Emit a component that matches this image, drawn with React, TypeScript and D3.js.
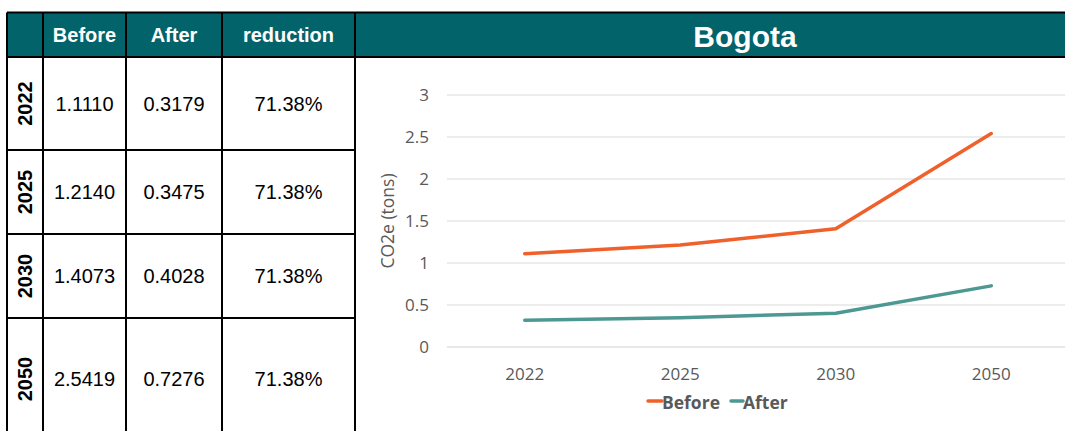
import React from "react";
import * as d3 from "d3";

const years = ["2022", "2025", "2030", "2050"];
const beforeValues = [1.111, 1.214, 1.4073, 2.5419];
const afterValues = [0.3179, 0.3475, 0.4028, 0.7276];
const beforeText = ["1.1110", "1.2140", "1.4073", "2.5419"];
const afterText = ["0.3179", "0.3475", "0.4028", "0.7276"];
const reductionText = ["71.38%", "71.38%", "71.38%", "71.38%"];
const headers = ["Before", "After", "reduction"];
const yTicks = [0, 0.5, 1, 1.5, 2, 2.5, 3];
const title = "Bogota";
const yTitle = "CO2e (tons)";
const seriesNames = ["Before", "After"];

const W = 1065;
const H = 431;
const TEAL = "#02646A";
const ORANGE = "#F0602A";
const GREEN = "#4E9893";
const TXT = "#595959";

export default function App() {
  const colX = [7, 43, 126, 222, 355];
  const rowY = [12.5, 57, 150, 234, 318, 442];
  const tableFont = "'Liberation Sans', Arial, sans-serif";
  const chartFont = "'Open Sans', 'Noto Sans', sans-serif";

  const x = d3.scaleBand<string>().domain(years).range([447, 1069]);
  const y = d3.scaleLinear().domain([0, 3]).range([347, 95]);
  const cx = (d: string) => (x(d) as number) + x.bandwidth() / 2;
  const line = d3
    .line<number>()
    .x((_, i) => cx(years[i]))
    .y((v) => y(v));

  return (
    <svg
      width={W}
      height={H}
      style={{ position: "absolute", left: 0, top: 0, background: "#fff" }}
    >
      <rect x={7} y={rowY[0]} width={W - 7} height={rowY[1] - rowY[0]} fill={TEAL} />
      {headers.map((h, i) => (
        <text
          key={h}
          x={(colX[i + 1] + colX[i + 2]) / 2}
          y={(rowY[0] + rowY[1]) / 2 + 7}
          textAnchor="middle"
          fill="#fff"
          fontFamily={tableFont}
          fontWeight="bold"
          fontSize={20}
        >
          {h}
        </text>
      ))}
      <text
        x={745}
        y={47}
        textAnchor="middle"
        fill="#fff"
        fontFamily={tableFont}
        fontWeight="bold"
        fontSize={30}
      >
        {title}
      </text>

      {years.map((yr, i) => {
        const mid = i === 3 ? 379 : (rowY[i + 1] + rowY[i + 2]) / 2;
        return (
          <g key={yr}>
            <text
              transform={`translate(${(colX[0] + colX[1]) / 2 + 7},${mid}) rotate(-90)`}
              textAnchor="middle"
              fill="#000"
              fontFamily={tableFont}
              fontWeight="bold"
              fontSize={20}
            >
              {yr}
            </text>
            {[beforeText[i], afterText[i], reductionText[i]].map((t, j) => (
              <text
                key={j}
                x={(colX[j + 1] + colX[j + 2]) / 2}
                y={mid + 7}
                textAnchor="middle"
                fill="#000"
                fontFamily={tableFont}
                fontSize={20}
              >
                {t}
              </text>
            ))}
          </g>
        );
      })}

      <g stroke="#000" strokeWidth={2} fill="none">
        <line x1={7} x2={W} y1={rowY[0]} y2={rowY[0]} />
        <line x1={7} x2={W} y1={rowY[1]} y2={rowY[1]} />
        {rowY.slice(2, 5).map((ry) => (
          <line key={ry} x1={7} x2={355} y1={ry} y2={ry} />
        ))}
        {colX.map((cxv) => (
          <line key={cxv} x1={cxv} x2={cxv} y1={rowY[0]} y2={H} />
        ))}
      </g>

      <g>
        {yTicks.map((t) => (
          <g key={t}>
            <line
              x1={447}
              x2={W}
              y1={y(t)}
              y2={y(t)}
              stroke={t === 0 ? "#e0e0e0" : "#d9d9d9"}
              strokeWidth={t === 0 ? 1.5 : 1}
            />
            <text
              x={429}
              y={y(t) + 6}
              textAnchor="end"
              fill={TXT}
              fontFamily={chartFont}
              fontSize={17}
            >
              {t}
            </text>
          </g>
        ))}
      </g>
      <text
        transform={`translate(394,221) rotate(-90)`}
        textAnchor="middle"
        fill={TXT}
        fontFamily={chartFont}
        fontSize={17.5}
      >
        {yTitle}
      </text>
      {years.map((yr) => (
        <text
          key={yr}
          x={cx(yr)}
          y={380}
          textAnchor="middle"
          fill={TXT}
          fontFamily={chartFont}
          fontSize={17}
        >
          {yr}
        </text>
      ))}

      <path
        d={line(beforeValues) || ""}
        fill="none"
        stroke={ORANGE}
        strokeWidth={3.5}
        strokeLinecap="round"
        strokeLinejoin="round"
      />
      <path
        d={line(afterValues) || ""}
        fill="none"
        stroke={GREEN}
        strokeWidth={3.5}
        strokeLinecap="round"
        strokeLinejoin="round"
      />

      <g fontFamily={chartFont} fontWeight="bold" fontSize={17.5} fill={TXT}>
        <line x1={648} x2={662} y1={401} y2={401} stroke={ORANGE} strokeWidth={3.5} strokeLinecap="round" />
        <text x={662} y={408.5}>{seriesNames[0]}</text>
        <line x1={731} x2={743} y1={401} y2={401} stroke={GREEN} strokeWidth={3.5} strokeLinecap="round" />
        <text x={743} y={408.5}>{seriesNames[1]}</text>
      </g>
    </svg>
  );
}
